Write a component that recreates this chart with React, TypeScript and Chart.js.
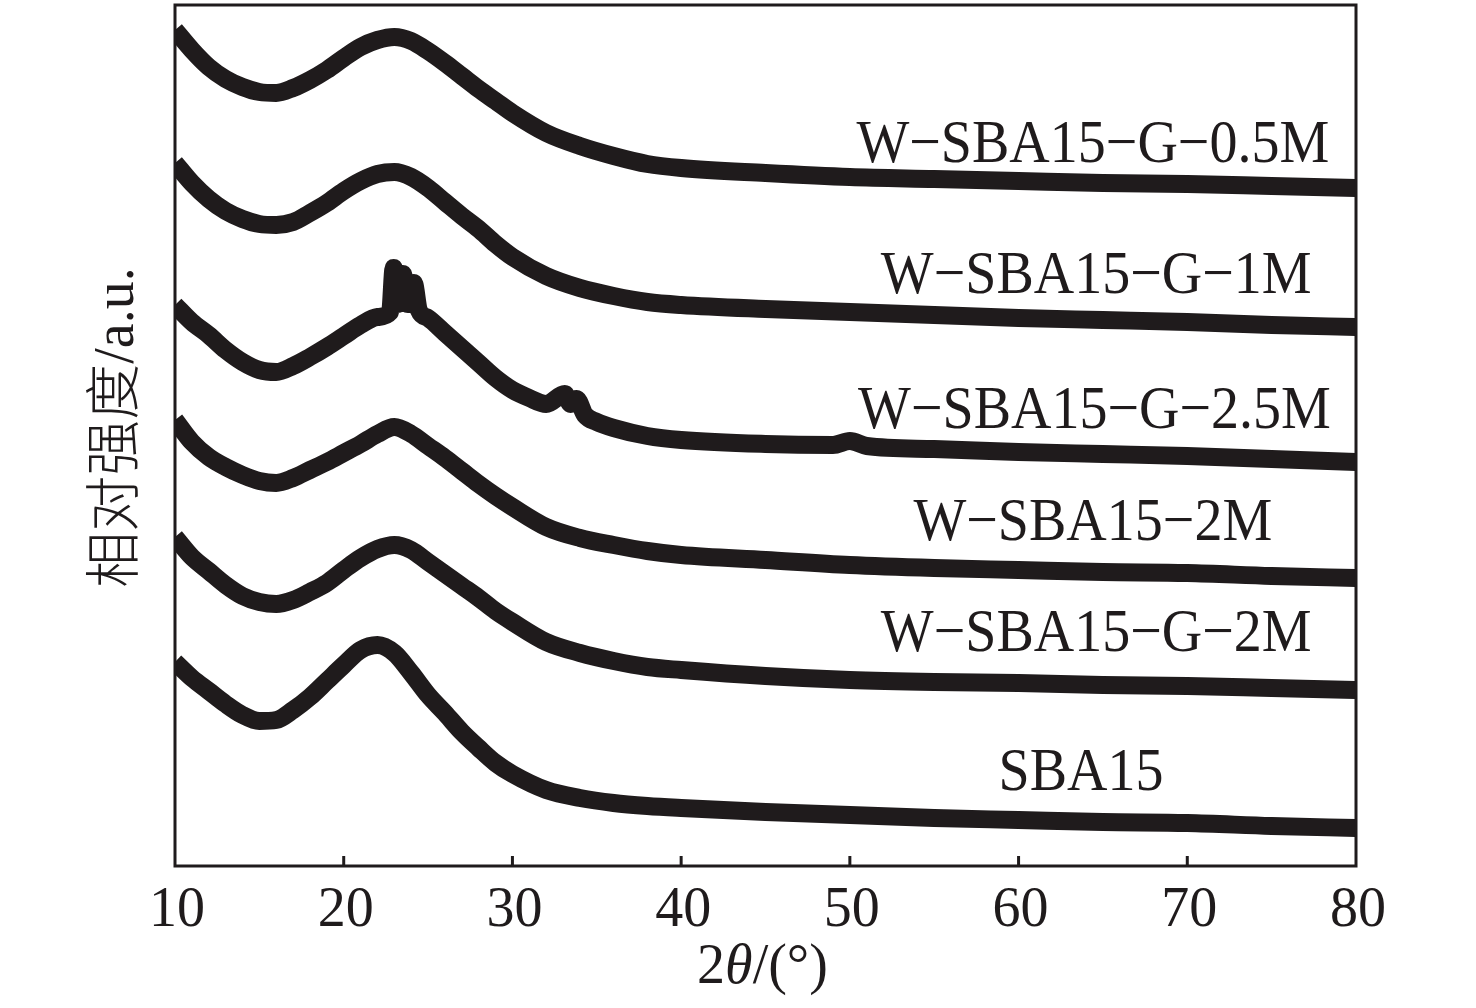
import { useEffect, useRef } from "react"
import { Chart, registerables } from "chart.js"

Chart.register(...registerables)

// 2θ sampling (degrees) shared by the smooth patterns
const angles = [
  10, 11, 12, 13, 14, 15, 16, 17, 18, 19, 20, 21, 22, 23, 24, 25, 26, 27, 28, 29, 30,
  32, 34, 36, 38, 40, 45, 50, 55, 60, 65, 70, 75, 80,
]

// intensities (a.u., stacked offsets included)
const wSba15G05M = [
  836, 816, 799, 787, 779, 774, 773, 778, 786, 796, 808, 819, 826, 829, 825, 815, 803, 790, 777, 765, 753,
  733, 720, 710, 702, 698, 693, 689, 687, 685, 683, 682, 680, 678,
]
const wSba15G1M = [
  703, 683, 667, 655, 647, 642, 641, 644, 653, 663, 675, 685, 692, 694, 689, 678, 664, 650, 637, 622, 609,
  590, 578, 570, 564, 561, 557, 554, 551, 548, 546, 544, 541, 539,
]
const wSba152M = [
  446, 424, 409, 399, 391, 385, 383, 388, 396, 404, 413, 422, 432, 439, 432, 420, 408, 395, 382, 370, 359,
  339, 328, 321, 315, 311, 306, 301, 298, 296, 294, 293, 290, 288,
]
const wSba15G2M = [
  329, 309, 295, 281, 270, 264, 262, 266, 274, 283, 296, 308, 317, 321, 316, 304, 292, 280, 268, 255, 244,
  224, 213, 205, 199, 196, 190, 186, 184, 183, 181, 180, 178, 176,
]
const sba15 = [
  204, 188, 175, 162, 151, 145, 146, 156, 169, 185, 201, 216, 221, 213, 193, 171, 153, 134, 118, 103, 92,
  76, 68, 63, 60, 58, 54, 51, 48, 46, 44, 43, 40, 38,
]

// the 2.5M sample has sharp reflections, so it gets its own angle list
const anglesG25M = [
  10, 11, 12, 13, 14, 15, 16, 17, 18, 19, 20, 21, 22, 22.75, 22.96, 23.2, 23.5, 23.8, 24.15, 24.45, 25,
  26, 27, 28, 29, 30, 31, 32, 33.1, 33.45, 33.8, 34.3, 35, 36, 38, 40, 45, 49, 50, 51, 55, 60, 65, 70, 75, 80,
]
const wSba15G25M = [
  561, 544, 531, 516, 504, 496, 494, 500, 509, 519, 530, 541, 549, 554, 598, 562, 592, 562, 583, 556, 548,
  533, 518, 503, 488, 476, 468, 462, 472, 462, 467, 451, 444, 438, 430, 426, 422, 421, 425, 420, 417, 414,
  412, 410, 407, 404,
]

const xTicks = [10, 20, 30, 40, 50, 60, 70, 80]

const seriesNames = [
  "W−SBA15−G−0.5M",
  "W−SBA15−G−1M",
  "W−SBA15−G−2.5M",
  "W−SBA15−2M",
  "W−SBA15−G−2M",
  "SBA15",
]
// label anchors in data units: centre angle, baseline intensity
const labelAngles = [64.4, 64.6, 64.5, 64.4, 64.6, 63.7]
const labelLevels = [704, 573, 438, 326, 215, 76]

const INK = "#1f1b1c"
const SERIF = "'Liberation Serif', 'Times New Roman', serif"

const toPoints = (xs: number[], ys: number[]) => xs.map((x, i) => ({ x, y: ys[i] }))

const decorations = {
  id: "decorations",
  afterDatasetsDraw(chart: Chart) {
    const { ctx, chartArea: a, scales } = chart
    const xs = scales.x
    const ys = scales.y
    ctx.save()
    ctx.strokeStyle = INK
    ctx.fillStyle = INK
    ctx.lineWidth = 3

    // frame
    ctx.strokeRect(a.left, a.top, a.right - a.left, a.bottom - a.top)

    // inward ticks + labels
    ctx.font = `56px ${SERIF}`
    ctx.textAlign = "center"
    ctx.textBaseline = "alphabetic"
    xTicks.forEach((t) => {
      const px = xs.getPixelForValue(t)
      if (t !== 10 && t !== 80) {
        ctx.beginPath()
        ctx.moveTo(px, a.bottom)
        ctx.lineTo(px, a.bottom - 10)
        ctx.stroke()
      }
      ctx.fillText(String(t), px + 2, a.bottom + 60)
    })

    // series labels (slightly tall type like the original)
    seriesNames.forEach((name, i) => {
      const px = xs.getPixelForValue(labelAngles[i])
      const py = ys.getPixelForValue(labelLevels[i])
      ctx.save()
      ctx.translate(px, py)
      ctx.scale(1, 1.1)
      ctx.fillText(name, 0, 0)
      ctx.restore()
    })

    // x title: 2θ/(°) with italic theta
    const parts = [
      { t: "2", f: `56px ${SERIF}` },
      { t: "θ", f: `italic 56px ${SERIF}` },
      { t: "/(°)", f: `56px ${SERIF}` },
    ]
    let total = 0
    parts.forEach((p) => {
      ctx.font = p.f
      total += ctx.measureText(p.t).width
    })
    let cx = (a.left + a.right) / 2 - total / 2 - 3
    ctx.textAlign = "left"
    parts.forEach((p) => {
      ctx.font = p.f
      ctx.fillText(p.t, cx, a.bottom + 117)
      cx += ctx.measureText(p.t).width
    })

    // y title
    ctx.save()
    ctx.translate(118, (a.top + a.bottom) / 2 - 8)
    ctx.rotate(-Math.PI / 2)
    ctx.textAlign = "center"
    ctx.textBaseline = "middle"
    ctx.font = `300 56px ${SERIF}, 'Noto Sans CJK SC'`
    ctx.fillText("相对强度/a.u.", 0, 0)
    ctx.restore()

    ctx.restore()
  },
}

export default function App() {
  const chartRef = useRef<HTMLCanvasElement>(null)
  const chartInstance = useRef<Chart | null>(null)

  useEffect(() => {
    if (!chartRef.current) return
    if (chartInstance.current) chartInstance.current.destroy()

    const line = (label: string, data: { x: number; y: number }[]) => ({
      label,
      data,
      borderColor: INK,
      backgroundColor: INK,
      borderWidth: 18,
      pointRadius: 0,
      cubicInterpolationMode: "monotone" as const,
      borderJoinStyle: "round" as const,
      clip: 0,
    })

    chartInstance.current = new Chart(chartRef.current, {
      type: "line",
      data: {
        datasets: [
          line(seriesNames[0], toPoints(angles, wSba15G05M)),
          line(seriesNames[1], toPoints(angles, wSba15G1M)),
          line(seriesNames[2], toPoints(anglesG25M, wSba15G25M)),
          line(seriesNames[3], toPoints(angles, wSba152M)),
          line(seriesNames[4], toPoints(angles, wSba15G2M)),
          line(seriesNames[5], toPoints(angles, sba15)),
        ],
      },
      options: {
        animation: false,
        responsive: true,
        maintainAspectRatio: false,
        layout: { padding: { left: 175, top: 5, right: 120, bottom: 142 } },
        scales: {
          x: { type: "linear", min: 10, max: 80, display: false },
          y: { type: "linear", min: 0, max: 861, display: false },
        },
        plugins: {
          legend: { display: false },
          tooltip: { enabled: false },
        },
      },
      plugins: [decorations],
    })

    return () => {
      if (chartInstance.current) {
        chartInstance.current.destroy()
        chartInstance.current = null
      }
    }
  }, [])

  return (
    <div style={{ position: "fixed", left: 0, top: 0, width: 1476, height: 1008, background: "#fff" }}>
      <canvas ref={chartRef} />
    </div>
  )
}
